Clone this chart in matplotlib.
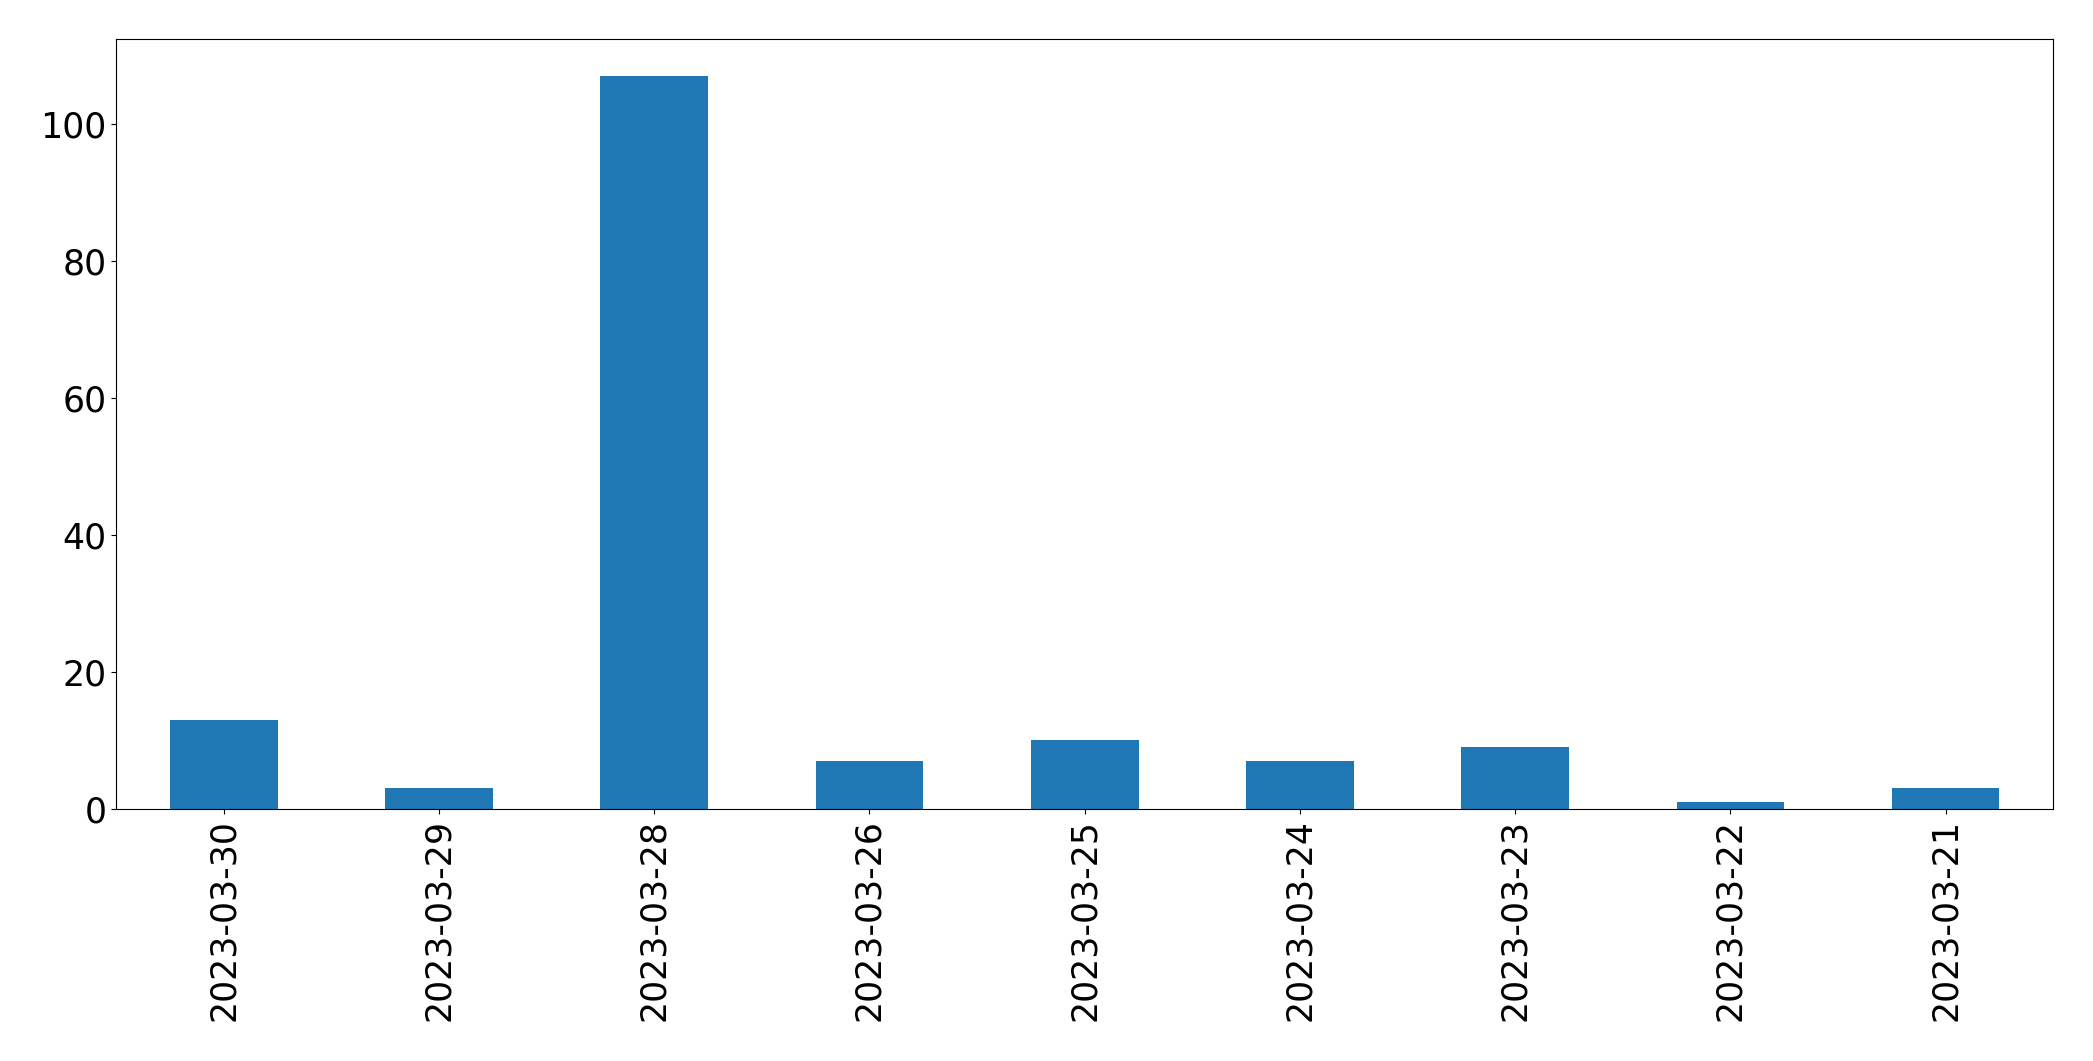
import matplotlib
matplotlib.use("Agg")
import matplotlib.pyplot as plt
import pandas as pd

dates = ["2023-03-30", "2023-03-29", "2023-03-28", "2023-03-26", "2023-03-25",
         "2023-03-24", "2023-03-23", "2023-03-22", "2023-03-21"]
counts = [13, 3, 107, 7, 10, 7, 9, 1, 3]

s = pd.Series(counts, index=dates)

fig = plt.figure(figsize=(20.93, 10.61), dpi=100)
ax = fig.add_axes([0.0555, 0.2375, 0.9255, 0.7255])
s.plot(kind="bar", ax=ax, color="#1f77b4", fontsize=25)
ax.set_yticks([0, 20, 40, 60, 80, 100])
fig.savefig("out.png", dpi=100)
